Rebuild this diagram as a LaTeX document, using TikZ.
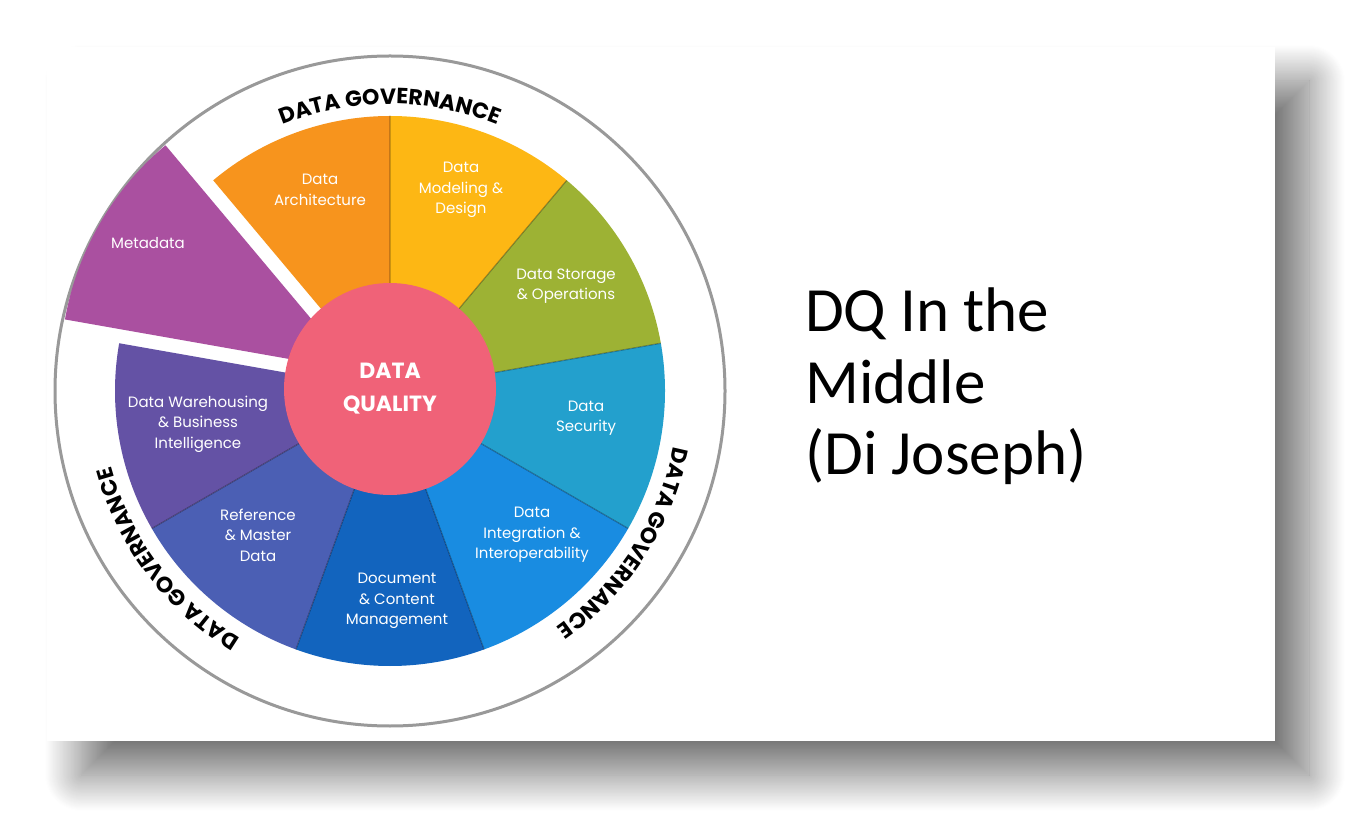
\documentclass[tikz,border=0pt]{standalone}
\usepackage{fontspec}
\usetikzlibrary{decorations.text,shadows.blur}
\newfontfamily\wheelfont{Poppins}
\newfontfamily\slidefont{Carlito}
\definecolor{archOrange}{RGB}{247,148,29}
\definecolor{modelYellow}{RGB}{253,183,20}
\definecolor{storeGreen}{RGB}{157,178,52}
\definecolor{secTeal}{RGB}{35,160,205}
\definecolor{integBlue}{RGB}{25,140,225}
\definecolor{docBlue}{RGB}{18,100,190}
\definecolor{refBlue}{RGB}{75,95,180}
\definecolor{whPurple}{RGB}{100,82,165}
\definecolor{metaPurple}{RGB}{170,80,160}
\definecolor{dqPink}{RGB}{240,98,120}
\colorlet{ringGray}{black!40}

\begin{document}
\begin{tikzpicture}[
    x=1pt, y=1pt,
    divider/.style={draw=black, draw opacity=.3, line width=1.2pt},
    lbl/.style={
        text=white,
        align=center,
        inner sep=0,
        font=\wheelfont\fontsize{15}{20.5}\selectfont,
      },
    gov/.style={
        decorate,
        decoration={text along path, text align=center,
            text={|\wheelfont\bfseries\fontsize{22}{22}\selectfont|DATA GOVERNANCE}},
      },
  ]
  \useasboundingbox (0,0) rectangle (1370,836);

  % slide
  \fill[white, blur shadow={shadow xshift=34pt, shadow yshift=-34pt,
      shadow blur radius=36pt, shadow blur steps=40, shadow opacity=55}] (47,95) rectangle (1275,789);

  \begin{scope}[shift={(390,445)}]
    \draw[line width=3pt, draw=ringGray, fill=white] (0,0) circle[radius=335];

    \fill[archOrange]  (0,0) -- (90:275) arc[start angle=90, end angle=130, radius=275] -- cycle;
    \fill[modelYellow] (0,0) -- (50:275) arc[start angle=50, end angle=90, radius=275] -- cycle;
    \fill[storeGreen]  (0,0) -- (10:275) arc[start angle=10, end angle=50, radius=275] -- cycle;
    \fill[secTeal]     (0,0) -- (-30:275) arc[start angle=-30, end angle=10, radius=275] -- cycle;
    \fill[integBlue]   (0,0) -- (-70:275) arc[start angle=-70, end angle=-30, radius=275] -- cycle;
    \fill[docBlue]     (0,0) -- (-110:275) arc[start angle=-110, end angle=-70, radius=275] -- cycle;
    \fill[refBlue]     (0,0) -- (-150:275) arc[start angle=-150, end angle=-110, radius=275] -- cycle;
    \fill[whPurple]    (0,0) -- (170:275) arc[start angle=170, end angle=210, radius=275] -- cycle;
    \fill[metaPurple]  (150:41) -- ++(130:294) arc[start angle=130, end angle=170, radius=294] -- cycle;

    \draw[divider] (90:100) -- (90:275) (50:100) -- (50:275) (10:100) -- (10:275)
      (-30:100) -- (-30:275) (-70:100) -- (-70:275) (-110:100) -- (-110:275)
      (-150:100) -- (-150:275);

    \node[circle, fill=dqPink, minimum size=212pt, inner sep=0, text=white, align=center,
      font=\wheelfont\bfseries\fontsize{22}{33}\selectfont] (dq) at (0,2) {DATA\\QUALITY};

    \node[lbl] (arch) at (-70,201) {Data\\Architecture};
    \node[lbl] (model) at (71,201) {Data\\Modeling \&\\Design};
    \node[lbl] (store) at (176,105) {Data Storage\\\& Operations};
    \node[lbl] (secur) at (196,-27) {Data\\Security};
    \node[lbl] (integ) at (142,-144) {Data\\Integration \&\\Interoperability};
    \node[lbl] (docum) at (7,-210) {Document\\\& Content\\Management};
    \node[lbl] (refer) at (-132,-144) {Reference\\\& Master\\Data};
    \node[lbl] (wareh) at (-192,-33) {Data Warehousing\\\& Business\\Intelligence};
    \node[lbl] (meta) at (-242,148) {Metadata};

    \path[gov] (135:287) arc[start angle=135, end angle=45, radius=287];
    \path[gov] (12:289) arc[start angle=12, end angle=-78, radius=289];
    \path[gov] (262:289) arc[start angle=262, end angle=172, radius=289];
  \end{scope}

  \node[anchor=north west, align=left, inner sep=0,
    font=\slidefont\fontsize{63}{71.5}\selectfont] (title) at (805,548) {DQ In the\\Middle\\(Di Joseph)};
\end{tikzpicture}
\end{document}
